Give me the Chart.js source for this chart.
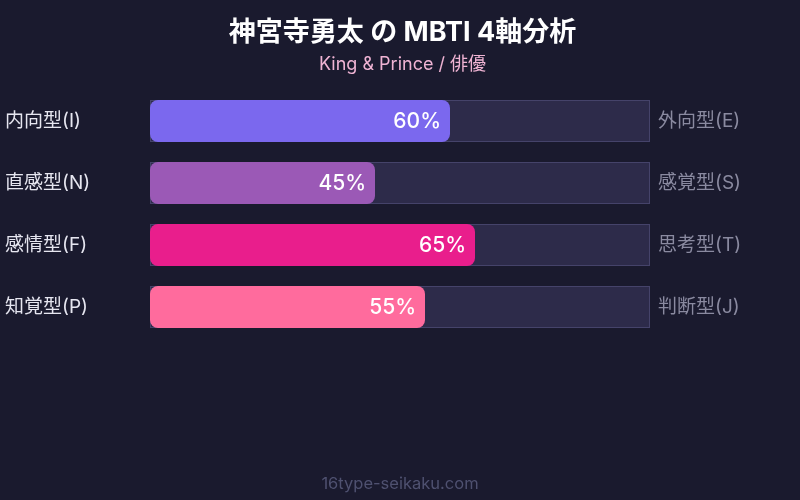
<!DOCTYPE html>
<html><head><meta charset="utf-8">
<script src="https://cdn.jsdelivr.net/npm/chart.js@4"></script>
<style>
html,body{margin:0;padding:0;background:#1a1a2e;}
#wrap{position:relative;width:800px;height:500px;}
#footer{position:absolute;left:0;right:0;top:473px;text-align:center;font:16.5px Inter,"Noto Sans CJK JP",sans-serif;color:#4f5170;}
</style></head>
<body>
<div id="wrap"><canvas id="c" width="800" height="500"></canvas><div id="footer">16type-seikaku.com</div></div>
<script>
const titleText = "神宮寺勇太 の MBTI 4軸分析";
const subtitleText = "King & Prince / 俳優";
const leftLabels = ["内向型(I)", "直感型(N)", "感情型(F)", "知覚型(P)"];
const rightLabels = ["外向型(E)", "感覚型(S)", "思考型(T)", "判断型(J)"];
const values = [60, 45, 65, 55];
const trackValues = [100, 100, 100, 100];
const barColors = ["#7b68ee", "#9b59b6", "#e91e8c", "#ff6b9d"];
const FONT = "Inter, 'Noto Sans CJK JP', sans-serif";

const valueLabelPlugin = {
  id: 'valueLabels',
  afterDatasetsDraw(chart) {
    const ctx = chart.ctx;
    const meta = chart.getDatasetMeta(0);
    ctx.save();
    ctx.font = "500 21px " + FONT;
    ctx.fillStyle = "#ffffff";
    ctx.textAlign = "right";
    ctx.textBaseline = "middle";
    meta.data.forEach((el, i) => {
      ctx.fillText(values[i] + "%", el.x - 9, el.y + 1);
    });
    ctx.restore();
  }
};

new Chart(document.getElementById('c'), {
  type: 'bar',
  data: {
    labels: leftLabels,
    datasets: [
      {
        data: values,
        backgroundColor: barColors,
        borderRadius: 8,
        borderSkipped: false,
        barPercentage: 0.68,
        categoryPercentage: 1,
        grouped: false,
        order: 0
      },
      {
        data: trackValues,
        backgroundColor: "#2d2b4a",
        borderColor: "#45436a",
        borderWidth: 1,
        borderSkipped: false,
        barPercentage: 0.68,
        categoryPercentage: 1,
        grouped: false,
        order: 1
      }
    ]
  },
  options: {
    indexAxis: 'y',
    responsive: false,
    animation: false,
    layout: { padding: { left: 5, right: 0, top: 0, bottom: 162 } },
    plugins: {
      legend: { display: false },
      tooltip: { enabled: false },
      title: {
        display: true, text: titleText, color: "#ffffff",
        font: { family: FONT, size: 27, weight: 'bold' },
        padding: { top: 17, bottom: 4 }
      },
      subtitle: {
        display: true, text: subtitleText, color: "#f0b4d4",
        font: { family: FONT, size: 18 },
        padding: { top: 0, bottom: 15 }
      }
    },
    scales: {
      x: { display: false, min: 0, max: 100 },
      y: {
        position: 'left',
        grid: { display: false },
        border: { display: false },
        ticks: { crossAlign: 'far', color: "#e6e6f0", font: { family: FONT, size: 19 }, padding: 8 },
        afterFit(scale) { scale.width = 145; }
      },
      y2: {
        type: 'category',
        labels: rightLabels,
        position: 'right',
        grid: { display: false },
        border: { display: false },
        ticks: { crossAlign: 'near', color: "#8a8aa0", font: { family: FONT, size: 19 }, padding: 0 },
        afterFit(scale) { scale.width = 150; }
      }
    }
  },
  plugins: [valueLabelPlugin]
});
</script>
</body></html>
